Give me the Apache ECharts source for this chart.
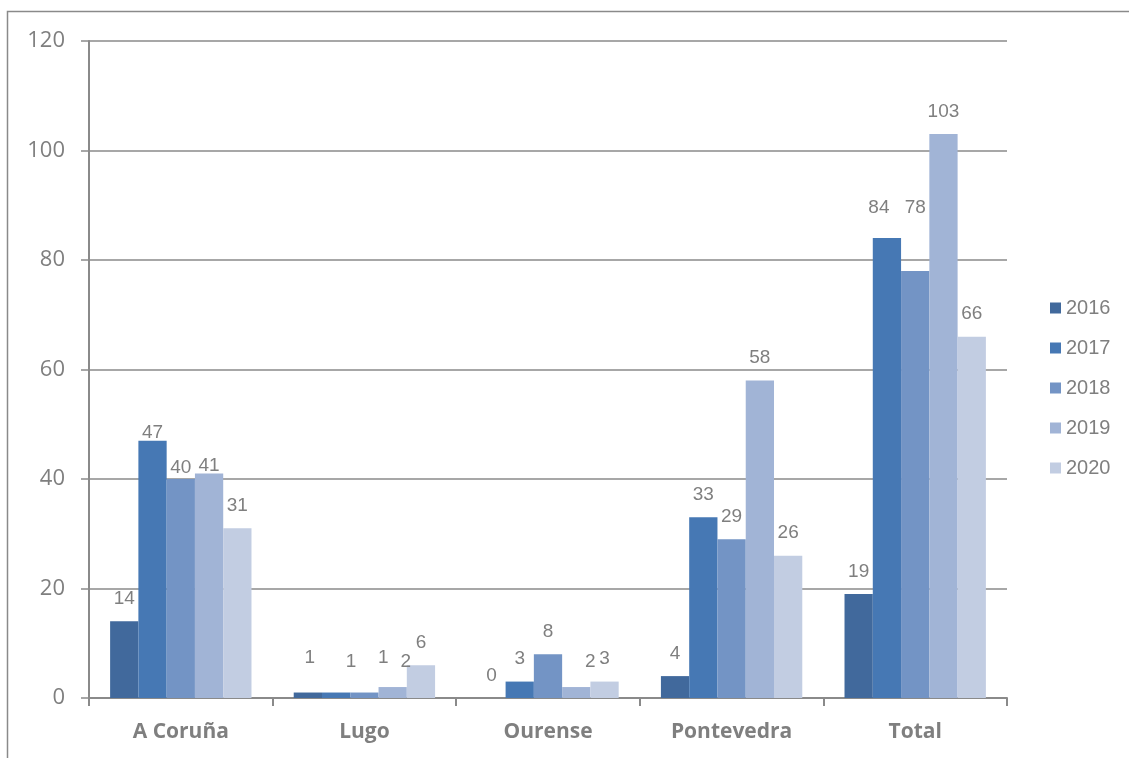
<!DOCTYPE html>
<html>
<head>
<meta charset="utf-8">
<script src="https://cdn.jsdelivr.net/npm/echarts@6/dist/echarts.min.js"></script>
<style>
    html, body { margin: 0; padding: 0; background: #fff; }
    #chart { width: 1129px; height: 758px; }
</style>
</head>
<body>
<div id="chart"></div>
<script>
// categorías y años
const provincias = ['A Coruña', 'Lugo', 'Ourense', 'Pontevedra', 'Total']
const anos = ['2016', '2017', '2018', '2019', '2020']

// valores por año
const v2016 = [14, 1, 0, 4, 19]
const v2017 = [47, 1, 3, 33, 84]
const v2018 = [40, 1, 8, 29, 78]
const v2019 = [41, 2, 2, 58, 103]
const v2020 = [31, 6, 3, 26, 66]

const yTicks = [0, 20, 40, 60, 80, 100, 120]

const valores = [v2016, v2017, v2018, v2019, v2020]
const colores = ['#41699c', '#4678b4', '#7394c5', '#a1b4d6', '#c2cde2']
const gris = '#7f7f7f'
const linea = '#8a8a8a'

// etiquetas desplazadas a mano en el original: 'serie-categoria' -> [dx, dy]
const ajustes = {
    '1-0': [0, 15], '2-0': [0, 11], '3-0': [0, 15],
    '0-1': [2, -12], '1-1': [15, -8], '2-1': [19, -12], '3-1': [13, -3],
    '3-2': [14, -3],
    '1-4': [-8, -8], '2-4': [0, -41]
}

const chart = echarts.init(document.getElementById('chart'))
chart.setOption({
    animation: false,
    backgroundColor: '#fff',
    graphic: [{
        type: 'rect',
        shape: { x: 7.5, y: 11.5, width: 1200, height: 800 },
        style: { fill: 'none', stroke: linea, lineWidth: 1.5 },
        silent: true
    }],
    grid: { left: 89, right: 122, top: 41, bottom: 60 },
    legend: {
        orient: 'vertical',
        left: 1045,
        top: 293,
        itemWidth: 11,
        itemHeight: 11,
        itemGap: 20,
        icon: 'rect',
        textStyle: { color: gris, fontSize: 20, fontFamily: 'Liberation Sans' },
        data: anos
    },
    xAxis: {
        type: 'category',
        data: provincias,
        axisLine: { lineStyle: { color: linea, width: 2 } },
        axisTick: { show: true, length: 8, interval: 0, lineStyle: { color: linea, width: 2 } },
        axisLabel: { color: gris, fontSize: 21, fontWeight: 'bold', fontFamily: 'Open Sans', margin: 24 }
    },
    yAxis: {
        type: 'value',
        min: yTicks[0],
        max: yTicks[yTicks.length - 1],
        interval: 20,
        axisLine: { show: true, lineStyle: { color: linea, width: 2 } },
        axisTick: { show: true, length: 8, lineStyle: { color: linea, width: 1.5 } },
        splitLine: { lineStyle: { color: linea, width: 1.5 } },
        axisLabel: { color: gris, fontSize: 22, fontFamily: 'Open Sans', margin: 24 }
    },
    series: anos.map((ano, i) => ({
        name: ano,
        type: 'bar',
        data: valores[i].map((v, j) => {
            const off = ajustes[i + '-' + j]
            return off ? { value: v, label: { offset: off } } : v
        }),
        barGap: '0%',
        barCategoryGap: '23%',
        itemStyle: { color: colores[i] },
        label: {
            show: true,
            position: 'top',
            distance: 13,
            color: gris,
            fontSize: 19,
            fontFamily: 'Liberation Sans'
        }
    }))
})
</script>
</body>
</html>
